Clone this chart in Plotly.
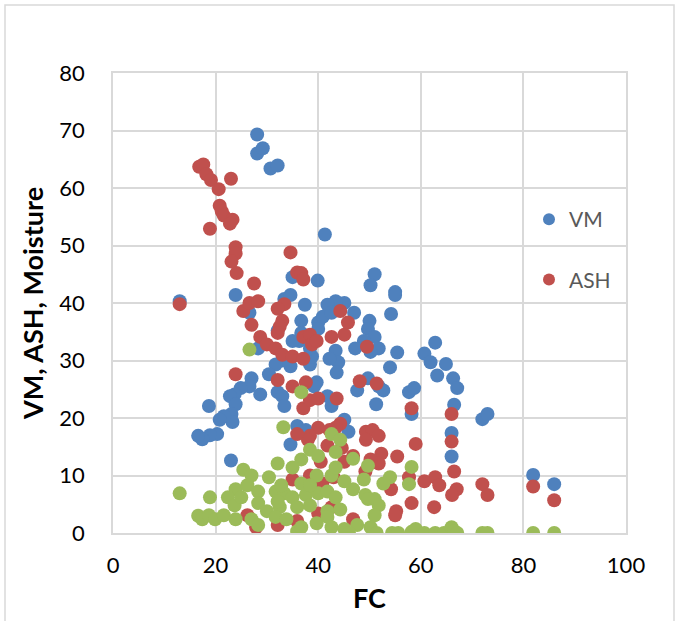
import plotly.graph_objects as go

# VM series (FC, VM)
vm_fc = [28.1, 28.1, 29.2, 30.7, 32.1, 41.3, 13.0, 23.9, 35.0, 39.9, 51.0, 50.2, 55.0, 55.0, 54.2,
         55.4, 54.0, 60.7, 62.8, 61.9, 63.2, 64.9, 66.3, 67.1, 66.5, 66.0, 66.0, 57.7, 58.7, 58.2,
         72.0, 73.0, 81.9, 86.0, 51.8, 51.3, 52.7, 49.7, 50.0, 49.7, 51.0, 51.8, 50.2, 48.9, 47.0,
         47.2, 47.6, 45.1, 43.4, 41.8, 40.0, 40.9, 42.6, 40.0, 43.4, 43.9, 43.6, 42.2, 38.4, 38.8,
         38.4, 36.7, 37.4, 36.3, 36.7, 35.0, 34.6, 33.0, 32.1, 33.4, 34.6, 31.7, 30.4, 32.1, 33.0,
         33.4, 39.7, 39.2, 42.6, 41.8, 28.3, 28.7, 27.0, 26.6, 24.9, 23.7, 22.8, 23.9, 23.1, 23.3,
         21.6, 20.8, 20.3, 18.7, 18.9, 17.4, 16.6, 23.0, 35.9, 37.6, 34.6, 45.1, 45.9, 26.6]
vm = [69.3, 66.0, 66.9, 63.4, 63.9, 51.9, 40.3, 41.4, 44.5, 43.9, 45.0, 43.1, 41.9, 41.4, 38.1,
      31.4, 28.8, 31.2, 33.1, 29.7, 27.4, 29.4, 26.9, 25.2, 22.3, 17.4, 13.3, 24.5, 25.2, 20.7,
      19.8, 20.7, 10.1, 8.5, 25.5, 22.4, 24.8, 26.9, 36.9, 35.5, 34.1, 32.1, 31.5, 33.4, 38.3,
      32.1, 24.8, 40.0, 40.3, 39.7, 36.6, 37.6, 38.3, 35.5, 31.7, 29.7, 27.9, 30.3, 29.3, 30.7,
      32.1, 36.9, 39.7, 33.4, 34.8, 33.4, 29.0, 30.0, 35.2, 40.7, 41.4, 29.3, 27.6, 24.5, 23.8,
      22.1, 26.2, 25.5, 22.1, 23.8, 32.1, 24.1, 26.9, 25.5, 25.2, 24.1, 23.8, 22.4, 20.7, 19.3,
      20.3, 19.7, 17.2, 22.1, 17.0, 16.3, 16.9, 12.6, 18.6, 17.9, 15.4, 19.7, 17.6, 38.3]

# ASH series (FC, ASH)
ash_fc = [16.8, 17.6, 18.2, 19.1, 20.6, 23.0, 20.8, 21.2, 21.6, 23.3, 22.8, 18.9, 23.9, 23.9, 23.1,
          24.1, 34.6, 35.9, 36.7, 37.1, 27.5, 13.0, 25.4, 26.6, 28.3, 33.4, 32.1, 33.0, 32.5, 32.1,
          27.0, 28.7, 30.0, 31.7, 33.0, 35.0, 37.1, 37.1, 38.4, 38.8, 39.7, 42.6, 44.3, 45.8, 45.1,
          49.5, 23.9, 32.1, 35.0, 37.6, 37.1, 38.4, 40.0, 43.6, 48.1, 51.4, 58.2, 59.0, 66.0, 66.0,
          66.5, 67.0, 66.1, 62.8, 63.6, 60.7, 62.6, 57.7, 58.2, 55.2, 55.0, 54.2, 55.4, 52.3, 51.8,
          72.0, 73.0, 81.9, 86.0, 49.3, 50.6, 51.8, 49.3, 50.2, 49.2, 46.8, 44.3, 43.4, 42.2, 40.0,
          38.4, 38.0, 35.9, 41.8, 44.6, 45.1, 40.5, 35.0, 38.4, 43.0, 42.6, 40.0, 26.2, 27.9, 32.1,
          35.9, 46.8, 40.8]
ash = [63.7, 64.1, 62.4, 61.4, 59.8, 61.6, 56.9, 55.9, 55.2, 54.5, 53.8, 52.9, 49.7, 48.6, 47.2,
       45.2, 48.8, 45.3, 45.2, 44.1, 43.4, 39.8, 38.6, 40.0, 40.3, 39.8, 39.0, 36.9, 35.9, 34.8,
       36.2, 34.1, 32.8, 32.1, 31.0, 30.7, 30.3, 34.1, 34.5, 32.8, 33.4, 34.1, 38.6, 36.6, 34.5,
       32.4, 27.6, 26.6, 25.5, 26.2, 21.7, 23.1, 23.4, 23.4, 26.4, 26.0, 21.7, 15.5, 20.7, 15.9,
       10.7, 7.6, 6.6, 9.7, 8.3, 9.0, 4.5, 9.7, 5.2, 3.8, 3.1, 7.6, 13.3, 13.8, 12.1,
       8.5, 6.6, 8.1, 5.7, 17.6, 17.9, 16.9, 16.2, 12.8, 10.7, 13.4, 19.0, 18.3, 17.9, 18.3,
       16.9, 16.2, 17.2, 15.2, 14.8, 12.4, 12.4, 9.3, 10.0, 9.7, 4.5, 3.4, 3.1, 1.0, 1.4,
       2.1, 2.4, 8.6]

# Moisture series (FC, Moisture)
moist_fc = [13.0, 26.6, 33.2, 36.7, 42.6, 44.3, 43.4, 38.4, 40.0, 36.7, 32.1, 35.0, 46.8, 49.7, 58.2,
            25.4, 27.0, 30.4, 42.6, 39.7, 45.1, 48.9, 54.0, 52.7, 57.7, 23.9, 22.4, 18.9, 26.2, 28.3,
            31.7, 33.4, 35.0, 37.6, 40.0, 41.8, 43.4, 46.8, 49.2, 51.0, 51.8, 23.7, 28.3, 30.0, 32.5,
            35.9, 38.4, 41.8, 44.3, 51.0, 16.6, 17.4, 18.7, 19.9, 21.6, 23.9, 27.0, 28.3, 31.7, 33.8,
            39.7, 41.8, 35.9, 36.7, 42.6, 45.1, 47.6, 50.2, 46.0, 51.4, 54.4, 55.6, 58.2, 59.0, 60.7,
            62.8, 64.5, 66.0, 66.5, 67.1, 72.0, 73.0, 81.9, 86.0, 25.0, 32.8, 36.7, 38.4, 49.7, 43.4,
            32.1]
moist = [6.9, 31.9, 18.4, 24.5, 17.2, 16.2, 14.1, 14.5, 13.4, 12.8, 12.1, 11.4, 12.9, 11.7, 11.5,
         11.0, 10.0, 9.7, 10.0, 10.0, 9.0, 9.3, 9.7, 8.6, 8.5, 7.6, 6.2, 6.2, 8.3, 7.2,
         7.2, 6.9, 6.2, 6.6, 6.9, 7.2, 6.2, 7.6, 6.6, 5.9, 4.8, 4.8, 5.2, 3.8, 4.5,
         4.5, 4.8, 3.8, 4.1, 3.1, 3.0, 2.4, 3.1, 2.4, 3.1, 2.4, 2.4, 1.4, 2.8, 2.4,
         1.7, 2.8, 0.3, 1.0, 1.0, 0.7, 1.4, 1.0, 0.0, 0.0, 0.0, 0.0, 0.2, 0.7, 0.0,
         0.0, 0.0, 1.0, 0.3, 0.0, 0.0, 0.0, 0.0, 0.0, 6.2, 8.3, 8.6, 8.3, 5.9, 11.4,
         5.5]

FONT = "Lato"
msize = 14

fig = go.Figure()
fig.add_trace(go.Scatter(x=vm_fc, y=vm, mode="markers", name="VM", legendgroup="vm",
                         marker=dict(color="#4F81BD", size=msize)))
fig.add_trace(go.Scatter(x=ash_fc, y=ash, mode="markers", name="ASH", legendgroup="ash",
                         marker=dict(color="#C0504D", size=msize)))
fig.add_trace(go.Scatter(x=moist_fc, y=moist, mode="markers", name="Moisture", legendgroup="m",
                         showlegend=False, marker=dict(color="#9BBB59", size=msize)))

W, H = 675, 621
L, R, T, B = 113, 49, 73, 88
pw, ph = W - L - R, H - T - B

fig.update_layout(
    width=W, height=H,
    margin=dict(l=L, r=R, t=T, b=B),
    paper_bgcolor="white", plot_bgcolor="white",
    font=dict(family=FONT, color="#000000"),
    showlegend=True,
    legend=dict(x=(529 - L) / pw, y=(ph - (199 - T)) / ph, xanchor="left", yanchor="top",
                bgcolor="rgba(0,0,0,0)", font=dict(size=21, color="#595959", family=FONT),
                tracegroupgap=30, itemsizing="constant", traceorder="grouped"),
    xaxis=dict(range=[0, 100], dtick=20, showgrid=True, gridcolor="#D9D9D9", gridwidth=1.5,
               zeroline=False, showline=True, mirror=True, linecolor="#D9D9D9", linewidth=1.5,
               tickfont=dict(size=22, family=FONT, color="#000000"), ticklabelstandoff=12,
               title=dict(text="<b>FC</b>", font=dict(size=27, family=FONT, color="#000000"), standoff=12)),
    yaxis=dict(range=[0, 80], dtick=10, showgrid=True, gridcolor="#D9D9D9", gridwidth=1.5,
               zeroline=False, showline=True, mirror=True, linecolor="#D9D9D9", linewidth=1.5,
               tickfont=dict(size=22, family=FONT, color="#000000"), ticklabelstandoff=22,
               title=dict(text="<b>VM, ASH, Moisture</b>", font=dict(size=27, family=FONT, color="#000000"), standoff=8)),
    shapes=[dict(type="rect", xref="paper", yref="paper",
                 x0=(5 - L) / pw, x1=(674 - L) / pw, y0=(ph - (630 - T)) / ph, y1=(ph - (5 - T)) / ph,
                 line=dict(color="#D9D9D9", width=1.5), fillcolor="rgba(0,0,0,0)", layer="below")],
)

fig.write_html("out.html", config={"displayModeBar": False},
               post_script="document.body.style.margin='0';")
